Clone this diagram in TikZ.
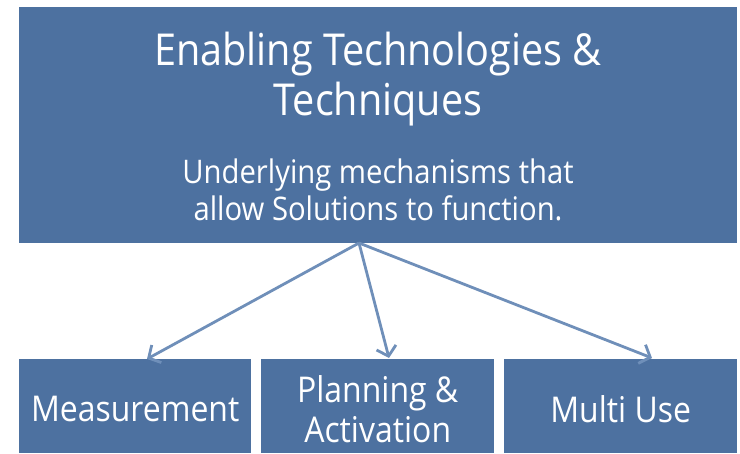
\documentclass[tikz,border=0pt]{standalone}
\usepackage{fontspec}
\setmainfont[FakeStretch=0.9]{Open Sans}
\usetikzlibrary{arrows.meta}
\definecolor{boxblue}{HTML}{4D71A0}
\definecolor{arrblue}{HTML}{6F8FB9}
\begin{document}
\begin{tikzpicture}[x=1pt,y=-1pt,
  box/.style={fill=boxblue,draw=none,text=white,inner sep=0pt},
  lbl/.style={text=white,align=center,inner sep=0pt},
  conn/.style={draw=arrblue,line width=2.8pt,-{Straight Barb[length=9pt,width=20pt,line width=2.8pt]}}]
\useasboundingbox (0,0) rectangle (740,454);
\node[box,minimum width=718pt,minimum height=236pt,anchor=north west] (top) at (19,7) {};
\node[box,minimum width=232pt,minimum height=94pt,anchor=north west] (m) at (19,359) {};
\node[box,minimum width=233pt,minimum height=94pt,anchor=north west] (p) at (261,359) {};
\node[box,minimum width=233pt,minimum height=94pt,anchor=north west] (u) at (504,359) {};
\node[lbl,font=\fontsize{44}{50}\selectfont] (t1) at (378,79) {Enabling Technologies \&\\Techniques};
\node[lbl,font=\fontsize{32.5}{37}\selectfont] (t2) at (378,190) {Underlying mechanisms that\\allow Solutions to function.};
\node[lbl,font=\fontsize{35.5}{40}\selectfont] (mt) at ([yshift=-3pt]m.center) {Measurement};
\node[lbl,font=\fontsize{35.5}{40}\selectfont] (pt) at ([yshift=-3pt]p.center) {Planning \&\\Activation};
\node[lbl,font=\fontsize{35.5}{40}\selectfont] (ut) at ([yshift=-3pt]u.center) {Multi Use};
\coordinate (o) at (359,243);
\coordinate (a1) at (147,359);
\coordinate (a2) at (389,358);
\coordinate (a3) at (652,358);
\draw[conn] (o) -- (a1);
\draw[conn] (o) -- (a2);
\draw[conn] (o) -- (a3);
\end{tikzpicture}
\end{document}
